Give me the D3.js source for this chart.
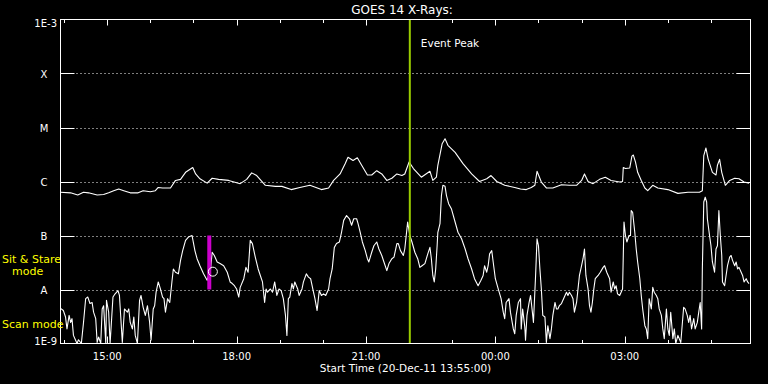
<!DOCTYPE html>
<html>
<head>
<meta charset="utf-8">
<script src="https://cdn.jsdelivr.net/npm/d3@7"></script>
<style>
    html, body { margin: 0; padding: 0; background: #000; }
    svg { display: block; }
    text { font-family: "DejaVu Sans", sans-serif; fill: #fff; }
</style>
</head>
<body>
<div id="chart"></div>
<script>
// GOES 14 X-ray flux plot, 16 hours from 20-Dec-11 13:55:00

const startTime = new Date(2011, 11, 20, 13, 55, 0);
const spanHours = 16;
const titleText = "GOES 14 X-Rays:";
const startLabel = "Start Time (20-Dec-11 13:55:00)";

// long channel: minutes after start / log10 flux (W/m^2)
const longMin = [0,14,24,32,39,51,60,67,74,81,88,97,108,115,125,132,136,142,153,160,
    167,174,184,188,194,204,211,220,234,250,259,266,273,285,299,308,321,333,347,363,
    373,380,389,396,400,407,413,419,427,433,440,447,454,461,468,475,479,485,491,502,
    514,518,523,525,531,535,539,549,560,572,583,593,599,607,618,632,640,648,655,660,
    663,669,676,685,697,708,718,725,729,734,741,750,758,766,778,782,783,786,792,795,
    797,800,803,808,813,817,824,831,845,859,873,889,893,895,898,901,907,912,914,917,
    920,925,931,938,944,951,958];
const longLog = [-6.20,-6.21,-6.25,-6.20,-6.21,-6.25,-6.24,-6.21,-6.17,-6.14,-6.17,-6.21,-6.21,-6.17,-6.19,-6.17,-6.11,-6.12,-6.12,-5.98,
    -5.96,-5.83,-5.74,-5.86,-5.95,-6.03,-5.94,-5.96,-5.98,-6.04,-5.96,-5.84,-5.89,-6.07,-6.09,-6.09,-6.15,-6.11,-6.07,-6.15,
    -6.12,-5.98,-5.86,-5.67,-5.55,-5.61,-5.56,-5.70,-5.88,-5.88,-5.80,-5.86,-5.98,-5.94,-5.86,-5.89,-5.86,-5.64,-5.76,-5.92,
    -5.81,-5.98,-5.92,-5.70,-5.30,-5.21,-5.33,-5.46,-5.67,-5.86,-6.00,-5.95,-5.89,-6.00,-6.07,-6.11,-6.14,-6.15,-6.11,-6.07,
    -5.81,-6.01,-6.12,-6.12,-6.06,-6.07,-6.07,-5.98,-5.86,-6.00,-6.04,-5.96,-5.92,-5.98,-6.01,-6.00,-5.74,-5.76,-5.75,-5.53,
    -5.51,-5.64,-5.83,-5.98,-6.12,-6.17,-6.07,-6.12,-6.15,-6.22,-6.20,-6.20,-6.17,-5.52,-5.38,-5.58,-5.83,-5.88,-5.70,-5.59,
    -5.83,-6.07,-5.98,-5.94,-5.95,-6.01,-6.03];

// short channel: minutes after start / log10 flux (W/m^2)
const shortMin = [0,4,7,9,12,14,16,18,21,23,25,29,32,35,38,41,44,46,49,51,53,56,58,60,63,64,67,69,73,76,
    80,82,86,89,93,95,97,100,102,104,107,110,112,115,118,121,124,126,129,131,133,136,139,142,144,146,149,152,155,157,160,
    164,167,170,174,178,183,187,190,194,199,204,206,208,211,214,218,222,227,232,236,239,242,245,248,250,255,258,261,264,267,
    271,275,278,281,284,286,288,292,295,298,301,304,307,310,313,315,317,319,
    322,324,326,330,332,336,338,342,345,348,351,354,357,360,363,366,369,373,375,378,381,384,388,391,394,398,402,405,408,412,
    414,417,420,424,427,429,433,436,440,443,447,450,454,457,461,464,468,470,473,477,
    479,483,486,489,493,497,500,503,507,511,514,516,518,520,522,524,525,528,530,532,535,537,540,544,549,553,558,563,567,572,
    576,581,585,588,590,593,595,597,600,602,605,609,613,616,618,620,624,626,630,632,634,637,640,
    641,643,646,647,649,652,654,657,658,661,663,665,667,669,671,674,676,678,681,683,685,688,690,692,694,697,699,701,704,706,
    708,711,713,715,718,720,722,724,727,729,731,734,736,738,740,742,744,748,751,755,757,760,764,766,769,771,773,775,778,780,
    782,784,786,788,791,793,794,796,799,
    801,803,806,808,810,813,815,817,819,822,824,826,829,831,833,836,838,840,843,845,847,849,852,854,856,859,863,867,869,872,
    874,876,878,881,883,886,888,890,892,893,895,897,899,900,903,905,907,910,912,914,916,918,920,921,924,926,928,931,933,935,
    938,940,942,944,947,949,951,954,956,958];
const shortLog = [-8.35,-8.39,-8.51,-8.73,-8.48,-8.61,-8.54,-8.85,-8.94,-9.00,-8.93,-9.00,-8.61,-8.17,-8.14,-8.26,-8.24,-8.42,-8.54,-8.98,
    -8.88,-9.00,-8.36,-8.30,-9.00,-8.20,-8.42,-9.00,-8.14,-8.08,-8.02,-8.11,-8.98,-8.36,-8.42,-8.36,-8.61,-8.73,-8.51,-8.85,
    -9.00,-8.20,-8.11,-8.33,-8.48,-8.30,-8.61,-8.94,-8.36,-8.30,-8.05,-7.86,-7.99,-8.14,-8.17,-8.42,-8.17,-8.24,-7.86,-7.62,-7.68,
    -7.71,-7.46,-7.28,-7.09,-7.03,-7.00,-7.28,-7.43,-7.56,-7.71,-7.83,-7.74,-7.74,-7.31,-7.37,-7.49,-7.52,-7.56,-7.68,-7.86,
    -7.89,-7.93,-7.99,-8.14,-7.96,-7.80,-7.59,-7.68,-7.09,-7.15,-7.40,-7.62,-7.74,-7.86,-8.24,-7.99,-8.05,-7.99,-8.05,-7.86,
    -8.11,-7.99,-8.02,-8.17,-8.48,-8.85,-8.17,-8.14,
    -7.89,-7.99,-7.86,-7.99,-8.11,-7.99,-7.86,-7.71,-7.77,-7.80,-7.99,-8.17,-8.39,-8.02,-8.11,-8.08,-8.11,-7.99,-7.80,-7.62,
    -7.22,-7.15,-7.12,-6.94,-6.72,-6.63,-6.69,-6.81,-6.69,-6.69,-6.78,-6.94,-7.12,-7.28,-7.43,-7.49,-7.31,-7.19,-7.12,-7.25,
    -7.37,-7.49,-7.65,-7.52,-7.43,-7.40,-7.15,-7.15,-7.28,-7.37,
    -7.25,-6.75,-7.00,-7.12,-7.31,-7.43,-7.59,-7.56,-7.52,-7.34,-7.22,-7.43,-7.74,-7.86,-7.62,-7.19,-6.94,-6.78,-6.26,-6.07,
    -6.09,-6.26,-6.41,-6.51,-6.75,-6.94,-7.06,-7.25,-7.43,-7.62,-7.80,-7.93,-7.83,-7.74,-7.56,-7.68,-7.56,-7.34,-7.28,-7.49,
    -7.80,-7.99,-8.17,-8.42,-8.54,-8.24,-8.17,-8.42,-8.73,-8.82,-8.48,-8.24,-8.17,
    -8.73,-8.36,-8.70,-8.94,-8.48,-8.24,-8.11,-8.48,-8.61,-7.74,-7.06,-7.19,-7.62,-7.99,-8.48,-8.51,-8.98,-8.67,-8.91,-8.73,
    -8.48,-8.24,-8.36,-8.36,-8.30,-8.26,-8.20,-8.14,-8.05,-8.11,-8.05,-8.11,-8.17,-8.42,-8.24,-7.99,-7.74,-7.62,-7.43,-7.25,
    -7.74,-7.99,-8.30,-8.42,-8.24,-7.99,-7.80,-7.74,-7.68,-7.59,-7.56,-7.68,-7.80,-8.05,-7.86,-7.99,-7.93,-8.08,-8.11,-8.05,
    -7.99,-6.75,-7.00,-7.12,-7.00,-7.00,-6.54,-6.57,-6.94,
    -7.25,-7.49,-7.80,-8.11,-8.36,-8.67,-8.73,-8.91,-8.17,-8.36,-7.96,-8.05,-8.11,-8.17,-8.36,-8.48,-8.73,-8.91,-8.36,-8.73,
    -8.85,-8.42,-8.91,-8.73,-9.00,-8.85,-8.98,-8.33,-8.36,-8.48,-8.61,-8.48,-8.73,-8.54,-8.73,-8.61,-8.42,-8.24,-8.73,-7.62,
    -6.38,-6.29,-6.38,-6.69,-7.00,-7.19,-7.49,-7.68,-7.25,-7.19,-6.54,-7.00,-7.37,-7.86,-7.93,-7.74,-7.56,-7.40,-7.37,-7.46,
    -7.56,-7.49,-7.62,-7.59,-7.68,-7.74,-7.86,-7.80,-7.86,-7.89];

// flare class levels on the left axis
const classLevels = [1e-8, 1e-7, 1e-6, 1e-5, 1e-4];
const classNames = ["A", "B", "C", "M", "X"];
const yEnds = [1e-9, 1e-3];
const yEndNames = ["1E-9", "1E-3"];

// event marks
const eventPeakTime = "22:01";
const sitStareTime = "17:22";           // magenta bar, B..A
const sitStareRange = [1e-7, 1e-8];
const markerTime = "17:27";
const markerLog = -7.67;

const W = 768, H = 384;
const margin = { top: 19.5, right: 17.5, bottom: 40.5, left: 60.5 };

const svg = d3.select("#chart").append("svg")
    .attr("width", W)
    .attr("height", H);

svg.append("rect").attr("width", W).attr("height", H).attr("fill", "#000");

const endTime = d3.timeHour.offset(startTime, spanHours);
const x = d3.scaleTime()
    .domain([startTime, endTime])
    .range([margin.left, W - margin.right]);
const y = d3.scaleLog()
    .domain(yEnds)
    .range([H - margin.bottom, margin.top]);

const x0 = margin.left, x1 = W - margin.right;
const y0 = H - margin.bottom, y1 = margin.top;

const atClock = s => {
    const [h, m] = s.split(":").map(Number);
    const d = new Date(startTime);
    d.setHours(h, m, 0, 0);
    if (d < startTime) d.setDate(d.getDate() + 1);
    return d;
};

// clip for data
svg.append("clipPath").attr("id", "plot")
    .append("rect")
    .attr("x", x0).attr("y", y1)
    .attr("width", x1 - x0).attr("height", y0 - y1);

// dotted class lines + solid stubs on both sides
const grid = svg.append("g");
grid.selectAll("line.dot")
    .data(classLevels)
    .join("line")
    .attr("class", "dot")
    .attr("x1", x0).attr("x2", x1)
    .attr("y1", d => Math.round(y(d)) + 0.5)
    .attr("y2", d => Math.round(y(d)) + 0.5)
    .attr("stroke", "#fff")
    .attr("stroke-dasharray", "1,3");
grid.selectAll("line.stubL")
    .data(classLevels)
    .join("line")
    .attr("class", "stubL")
    .attr("x1", x0).attr("x2", x0 + 14)
    .attr("y1", d => Math.round(y(d)) + 0.5)
    .attr("y2", d => Math.round(y(d)) + 0.5)
    .attr("stroke", "#fff");
grid.selectAll("line.stubR")
    .data(classLevels)
    .join("line")
    .attr("class", "stubR")
    .attr("x1", x1 - 14).attr("x2", x1)
    .attr("y1", d => Math.round(y(d)) + 0.5)
    .attr("y2", d => Math.round(y(d)) + 0.5)
    .attr("stroke", "#fff");

// class letters
svg.append("g").selectAll("text")
    .data(classLevels)
    .join("text")
    .attr("x", 44)
    .attr("y", d => y(d) + 4)
    .attr("text-anchor", "middle")
    .attr("font-size", 10)
    .text((d, i) => classNames[i]);

svg.append("text")
    .attr("x", 57).attr("y", y(yEnds[1]) + 7.5)
    .attr("text-anchor", "end").attr("font-size", 10)
    .text(yEndNames[1]);
svg.append("text")
    .attr("x", 57).attr("y", y(yEnds[0]) + 1)
    .attr("text-anchor", "end").attr("font-size", 10)
    .text(yEndNames[0]);

// hourly ticks, top and bottom
const hours = x.ticks(d3.timeHour.every(1));
const isMajor = d => d.getHours() % 3 === 0;

svg.append("g").selectAll("line")
    .data(hours)
    .join("line")
    .attr("x1", d => Math.round(x(d)) + 0.5)
    .attr("x2", d => Math.round(x(d)) + 0.5)
    .attr("y1", y0)
    .attr("y2", d => y0 - (isMajor(d) ? 7 : 3.5))
    .attr("stroke", "#fff");
svg.append("g").selectAll("line")
    .data(hours)
    .join("line")
    .attr("x1", d => Math.round(x(d)) + 0.5)
    .attr("x2", d => Math.round(x(d)) + 0.5)
    .attr("y1", y1)
    .attr("y2", d => y1 + (isMajor(d) ? 6 : 3.5))
    .attr("stroke", "#fff");

svg.append("g").selectAll("text")
    .data(hours.filter(isMajor))
    .join("text")
    .attr("x", d => x(d))
    .attr("y", 359.5)
    .attr("text-anchor", "middle")
    .attr("font-size", 10)
    .text(d3.timeFormat("%H:%M"));

svg.append("text")
    .attr("x", 405.5).attr("y", 372)
    .attr("text-anchor", "middle")
    .attr("font-size", 10.5)
    .text(startLabel);

svg.append("text")
    .attr("x", 402).attr("y", 14)
    .attr("text-anchor", "middle")
    .attr("font-size", 12)
    .text(titleText);

// data curves
const toPts = (mins, logs) => d3.zip(mins, logs)
    .map(([m, l]) => [d3.timeMinute.offset(startTime, m), Math.max(Math.pow(10, l), yEnds[0])]);

const line = d3.line()
    .x(d => x(d[0]))
    .y(d => y(d[1]));

const curves = svg.append("g").attr("clip-path", "url(#plot)");
[toPts(longMin, longLog), toPts(shortMin, shortLog)].forEach(pts => {
    curves.append("path")
        .datum(pts)
        .attr("d", line)
        .attr("fill", "none")
        .attr("stroke", "#fff")
        .attr("stroke-width", 1.1)
        .attr("stroke-linejoin", "round");
});

// sit & stare bar and marker
svg.append("rect")
    .attr("x", x(atClock(sitStareTime)) - 2)
    .attr("y", y(sitStareRange[0]))
    .attr("width", 4)
    .attr("height", y(sitStareRange[1]) - y(sitStareRange[0]))
    .attr("fill", "#cc00cc");

svg.append("circle")
    .attr("cx", x(atClock(markerTime)))
    .attr("cy", y(Math.pow(10, markerLog)))
    .attr("r", 4.5)
    .attr("fill", "none")
    .attr("stroke", "#fff");

// event peak
const ex = x(atClock(eventPeakTime));
svg.append("line")
    .attr("x1", ex).attr("x2", ex)
    .attr("y1", y1).attr("y2", y0)
    .attr("stroke", "#99cc00")
    .attr("stroke-width", 2);
svg.append("text")
    .attr("x", ex + 11).attr("y", 47)
    .attr("font-size", 10.5)
    .text("Event Peak");

// frame
svg.append("rect")
    .attr("x", x0).attr("y", y1)
    .attr("width", x1 - x0).attr("height", y0 - y1)
    .attr("fill", "none")
    .attr("stroke", "#fff");

// mode labels
const yellow = svg.append("g").style("fill", "#ffff00").attr("font-size", 11);
yellow.append("text").attr("x", 2).attr("y", 263).style("fill", "#ffff00").text("Sit & Stare");
yellow.append("text").attr("x", 12).attr("y", 275).style("fill", "#ffff00").text("mode");
yellow.append("text").attr("x", 2).attr("y", 328).style("fill", "#ffff00").text("Scan mode");
</script>
</body>
</html>
